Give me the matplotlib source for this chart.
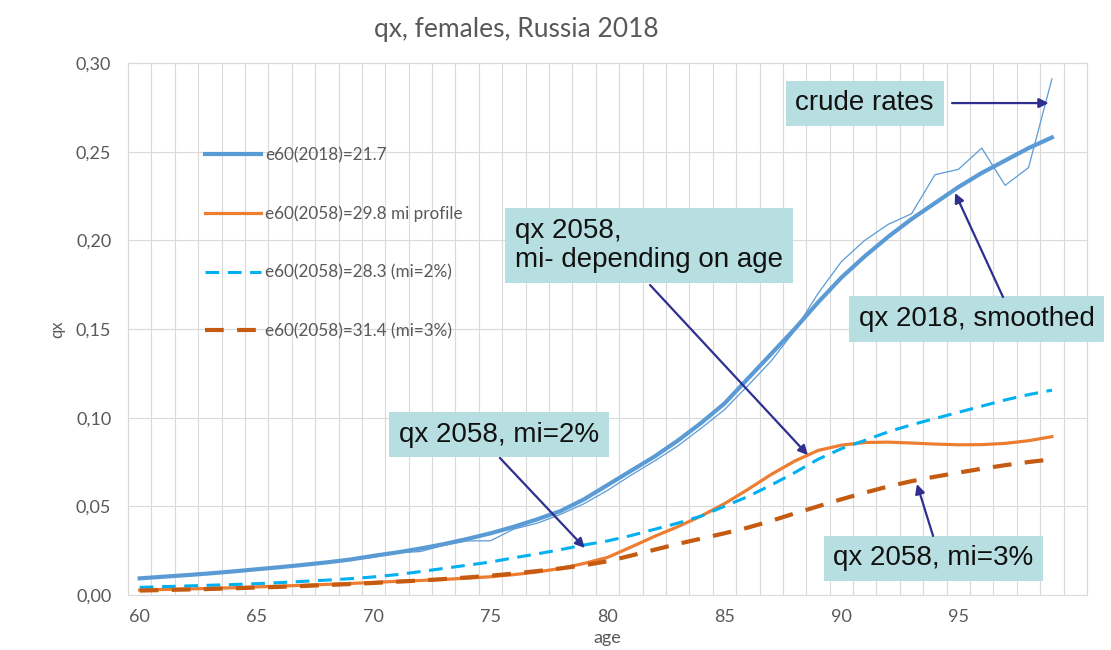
import numpy as np
import matplotlib
matplotlib.use('Agg')
import matplotlib.pyplot as plt
from matplotlib.ticker import FuncFormatter

ages = list(range(60, 100))

qx_2018_crude = [0.0093, 0.0102, 0.0113, 0.0121, 0.0132, 0.0146, 0.0156, 0.0171, 0.0183, 0.0198,
                 0.0212, 0.0238, 0.0245, 0.0280, 0.0305, 0.0306, 0.0372, 0.0405, 0.0455, 0.0515,
                 0.0590, 0.0675, 0.0755, 0.0840, 0.0940, 0.1045, 0.1180, 0.1320, 0.1490, 0.1700,
                 0.1880, 0.2000, 0.2090, 0.2150, 0.2370, 0.2400, 0.2520, 0.2310, 0.2410, 0.2910]

qx_2018 = [0.0094, 0.0103, 0.0112, 0.0122, 0.0133, 0.0145, 0.0157, 0.0170, 0.0184, 0.0200,
           0.0221, 0.0240, 0.0262, 0.0287, 0.0316, 0.0348, 0.0385, 0.0427, 0.0474, 0.0540,
           0.0620, 0.0700, 0.0780, 0.0870, 0.0970, 0.1080, 0.1220, 0.1360, 0.1500, 0.1650,
           0.1790, 0.1910, 0.2020, 0.2120, 0.2210, 0.2300, 0.2380, 0.2450, 0.2520, 0.2580]

qx_2058_profile = [0.0028, 0.0031, 0.0034, 0.0037, 0.0041, 0.0046, 0.0050, 0.0055, 0.0060, 0.0065,
                   0.0071, 0.0077, 0.0082, 0.0088, 0.0095, 0.0103, 0.0115, 0.0130, 0.0150, 0.0178,
                   0.0212, 0.0270, 0.0330, 0.0385, 0.0445, 0.0515, 0.0595, 0.0680, 0.0755, 0.0815,
                   0.0845, 0.0860, 0.0862, 0.0857, 0.0851, 0.0847, 0.0848, 0.0855, 0.0870, 0.0893]

qx_2058_mi2 = [0.0043, 0.0047, 0.0051, 0.0055, 0.0059, 0.0064, 0.0070, 0.0077, 0.0084, 0.0092,
               0.0102, 0.0115, 0.0132, 0.0150, 0.0168, 0.0186, 0.0210, 0.0232, 0.0256, 0.0282,
               0.0305, 0.0335, 0.0370, 0.0405, 0.0445, 0.0500, 0.0555, 0.0620, 0.0690, 0.0765,
               0.0825, 0.0872, 0.0920, 0.0960, 0.0995, 0.1030, 0.1065, 0.1100, 0.1130, 0.1155]

qx_2058_mi3 = [0.0025, 0.0028, 0.0031, 0.0034, 0.0038, 0.0042, 0.0046, 0.0051, 0.0056, 0.0062,
               0.0068, 0.0075, 0.0082, 0.0090, 0.0099, 0.0109, 0.0121, 0.0135, 0.0150, 0.0168,
               0.0190, 0.0222, 0.0255, 0.0288, 0.0318, 0.0348, 0.0380, 0.0418, 0.0460, 0.0500,
               0.0540, 0.0577, 0.0612, 0.0642, 0.0667, 0.0690, 0.0712, 0.0732, 0.0750, 0.0765]

labels = ['e60(2018)=21.7', 'e60(2058)=29.8 mi profile',
          'e60(2058)=28.3 (mi=2%)', 'e60(2058)=31.4 (mi=3%)']

gray = '#595959'
grid_c = '#d9d9d9'
box_c = '#b7dfe1'
arrow_c = '#2e2f8f'

fig = plt.figure(figsize=(11.11, 6.5), dpi=100)
ax = fig.add_axes([0.1152, 0.0846, 0.8632, 0.8185])

ax.plot(ages, qx_2018_crude, color='#5b9bd5', lw=0.9, label='_nolegend_', zorder=3)
ax.plot(ages, qx_2018, color='#5b9bd5', lw=3, label=labels[0], zorder=4)
ax.plot(ages, qx_2058_profile, color='#ed7d31', lw=2.3, label=labels[1], zorder=4)
ax.plot(ages, qx_2058_mi2, color='#00b0f0', lw=2.2, ls=(0, (4.5, 2.8)), label=labels[2], zorder=5)
ax.plot(ages, qx_2058_mi3, color='#c55a11', lw=3, ls=(0, (4.5, 3.2)), label=labels[3], zorder=5)

ax.set_xlim(59.5, 100.5)
ax.set_ylim(0, 0.30)
ax.set_xticks(range(60, 100, 5))
ax.set_xticks(np.arange(59.5, 101, 1), minor=True)
ax.set_yticks(np.arange(0, 0.31, 0.05))
ax.yaxis.set_major_formatter(FuncFormatter(lambda v, p: f'{v:.2f}'.replace('.', ',')))
ax.grid(which='minor', axis='x', color=grid_c, lw=0.8)
ax.grid(which='major', axis='y', color=grid_c, lw=0.8)
ax.set_axisbelow(True)
ax.tick_params(which='both', length=0, labelsize=13, labelcolor=gray)
ax.tick_params(axis='y', pad=12)
ax.tick_params(axis='x', pad=10)
for lab in ax.get_xticklabels() + ax.get_yticklabels():
    lab.set_family('Lato')
for s in ax.spines.values():
    s.set_color(grid_c)
    s.set_linewidth(0.8)

ax.set_xlabel('age', family='Lato', fontsize=13, color=gray, labelpad=4)
ax.set_ylabel('qx', family='Lato', fontsize=12, color=gray, labelpad=8)

fig.text(0.465, 0.954, 'qx, females, Russia 2018', family='Lato', fontsize=19,
         color=gray, ha='center', va='center')

leg = ax.legend(loc='upper left', bbox_to_anchor=(0.071, 0.858), frameon=False,
                prop={'family': 'Lato', 'size': 12.3}, labelcolor=gray,
                handlelength=3.3, handletextpad=0.25, labelspacing=2.48, borderpad=0)

box = dict(boxstyle='square,pad=0.35', fc=box_c, ec='none')
arr = dict(arrowstyle='-|>', color=arrow_c, lw=1.6, mutation_scale=14, shrinkA=0, shrinkB=0)
tfont = dict(family='Liberation Sans', fontsize=20, color='#111111', ha='center', va='center', zorder=6)

ax.text(90.99, 0.2772, 'crude rates', bbox=box, **tfont)
ax.annotate('', xy=(98.86, 0.2774), xytext=(94.73, 0.2774), arrowprops=arr, zorder=6)

ax.text(95.78, 0.1556, 'qx 2018, smoothed', bbox=box, **tfont)
ax.annotate('', xy=(94.86, 0.2267), xytext=(96.91, 0.1680), arrowprops=arr, zorder=6)

ax.text(81.77, 0.1971, 'qx 2058,\nmi- depending on age', bbox=box, multialignment='left',
        linespacing=1.15, **tfont)
ax.annotate('', xy=(88.57, 0.0789), xytext=(81.82, 0.1748), arrowprops=arr, zorder=6)

ax.text(75.36, 0.0905, 'qx 2058, mi=2%', bbox=box, **tfont)
ax.annotate('', xy=(79.03, 0.0265), xytext=(75.40, 0.0773), arrowprops=arr, zorder=6)

ax.text(93.94, 0.0206, 'qx 2058, mi=3%', bbox=box, **tfont)
ax.annotate('', xy=(93.23, 0.0626), xytext=(93.92, 0.0333), arrowprops=arr, zorder=6)

fig.savefig('out.png', dpi=100)
